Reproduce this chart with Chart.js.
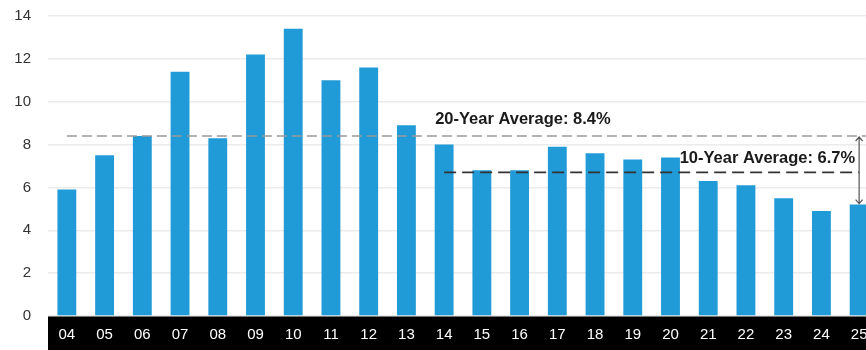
<!DOCTYPE html>
<html>
<head>
<meta charset="utf-8">
<script src="https://cdn.jsdelivr.net/npm/chart.js@4"></script>
<style>
  html, body { margin: 0; padding: 0; background: #fff; overflow: hidden; }
  #wrap { width: 878px; height: 350px; }
</style>
</head>
<body>
<div id="wrap"><canvas id="rateChart" width="878" height="350"></canvas></div>
<script>
const years = ['04', '05', '06', '07', '08', '09', '10', '11', '12', '13', '14',
               '15', '16', '17', '18', '19', '20', '21', '22', '23', '24', '25'];
const rates = [5.9, 7.5, 8.4, 11.4, 8.3, 12.2, 13.4, 11.0, 11.6, 8.9, 8.0,
               6.8, 6.8, 7.9, 7.6, 7.3, 7.4, 6.3, 6.1, 5.5, 4.9, 5.2];
const avg20 = 8.4;
const avg10 = 6.7;
const avg20Label = '20-Year Average: 8.4%';
const avg10Label = '10-Year Average: 6.7%';

// black band behind the x axis labels
const axisBand = {
    id: 'axisBand',
    beforeDraw(chart) {
        const { ctx, chartArea } = chart;
        ctx.save();
        ctx.fillStyle = '#000';
        ctx.fillRect(chartArea.left, chartArea.bottom, chart.width - chartArea.left, chart.height - chartArea.bottom);
        ctx.restore();
    }
};

// average lines, labels and the arrow between them
const averages = {
    id: 'averages',
    afterDatasetsDraw(chart) {
        const { ctx, chartArea, scales: { x, y } } = chart;
        const y20 = y.getPixelForValue(avg20);
        const y10 = y.getPixelForValue(avg10);
        const xFirst = x.getPixelForValue(0);
        const x14 = x.getPixelForValue(years.indexOf('14'));
        const xLast = x.getPixelForValue(years.length - 1);
        const yLastTop = y.getPixelForValue(rates[rates.length - 1]);

        ctx.save();
        ctx.lineWidth = 1.5;
        ctx.setLineDash([10, 5]);
        ctx.strokeStyle = '#999';
        ctx.beginPath();
        ctx.moveTo(xFirst, y20);
        ctx.lineTo(chartArea.right, y20);
        ctx.stroke();

        ctx.lineWidth = 1.8;
        ctx.setLineDash([12, 6]);
        ctx.strokeStyle = '#333';
        ctx.beginPath();
        ctx.moveTo(x14, y10);
        ctx.lineTo(xLast, y10);
        ctx.stroke();

        // double arrow
        ctx.setLineDash([]);
        ctx.lineWidth = 1.2;
        ctx.strokeStyle = '#555';
        ctx.beginPath();
        ctx.moveTo(xLast, y20 + 1);
        ctx.lineTo(xLast, yLastTop - 1);
        ctx.moveTo(xLast - 3.5, y20 + 5);
        ctx.lineTo(xLast, y20 + 1);
        ctx.lineTo(xLast + 3.5, y20 + 5);
        ctx.moveTo(xLast - 3.5, yLastTop - 5);
        ctx.lineTo(xLast, yLastTop - 1);
        ctx.lineTo(xLast + 3.5, yLastTop - 5);
        ctx.stroke();

        ctx.fillStyle = '#1a1a1a';
        ctx.font = 'bold 16.5px "Liberation Sans", Arial, sans-serif';
        ctx.textBaseline = 'alphabetic';
        ctx.textAlign = 'left';
        ctx.fillText(avg20Label, x14 - 9, y20 - 12);
        ctx.textAlign = 'right';
        ctx.fillText(avg10Label, xLast - 4, y10 - 9);
        ctx.restore();
    }
};

new Chart(document.getElementById('rateChart'), {
    type: 'bar',
    data: {
        labels: years,
        datasets: [{
            data: rates,
            backgroundColor: '#209bd7',
            borderWidth: 0,
            barPercentage: 0.5,
            categoryPercentage: 1
        }]
    },
    options: {
        responsive: false,
        animation: false,
        layout: { padding: { top: 16, right: 0, bottom: 0, left: 0 } },
        plugins: {
            legend: { display: false },
            tooltip: { enabled: false }
        },
        scales: {
            x: {
                grid: { display: false, drawTicks: false },
                border: { display: false },
                ticks: {
                    color: '#fff',
                    padding: 10,
                    maxRotation: 0,
                    autoSkip: false,
                    font: { family: '"Liberation Sans", Arial, sans-serif', size: 15 }
                },
                afterFit(scale) {
                    scale.height = 34;
                    scale.paddingLeft = 0;
                    scale.paddingRight = 0;
                }
            },
            y: {
                min: 0,
                max: 14,
                ticks: {
                    stepSize: 2,
                    color: '#333',
                    padding: 17,
                    font: { family: '"Liberation Sans", Arial, sans-serif', size: 15 }
                },
                grid: { color: '#ebebeb', lineWidth: 1.5, drawTicks: false },
                border: { display: false },
                afterFit(scale) {
                    scale.width = 48;
                    scale.paddingTop = 0;
                    scale.paddingBottom = 0;
                }
            }
        }
    },
    plugins: [axisBand, averages]
});
</script>
</body>
</html>
